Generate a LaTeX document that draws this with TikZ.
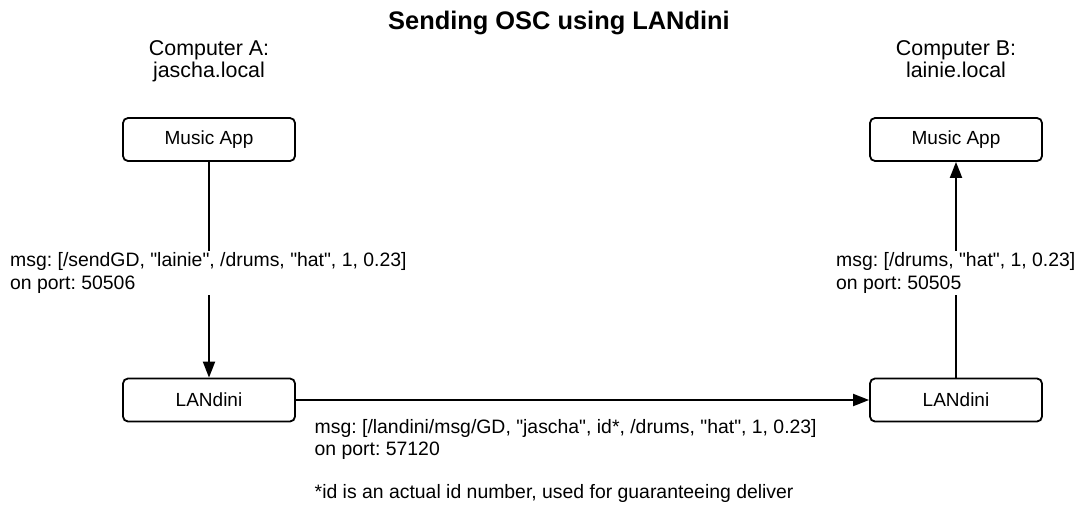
\documentclass[tikz,border=0pt]{standalone}
\usepackage{fontspec}
\newfontfamily\arial{Liberation Sans}
\usetikzlibrary{arrows.meta, positioning}
\frenchspacing

\tikzset{
  appbox/.style={draw, line width=1.8pt, rounded corners=5pt,
    minimum width=172pt, minimum height=43pt, inner sep=0pt,
    font=\arial\fontsize{19}{22}\selectfont},
  hosttext/.style={align=center, inner sep=0pt,
    font=\arial\fontsize{21.4}{22}\selectfont},
  msgtext/.style={fill=white, align=left, inner sep=2pt,
    font=\arial\fontsize{19.4}{22.6}\selectfont},
  flow/.style={line width=2pt, -{Triangle[length=16pt,width=12pt]}}
}

\begin{document}
\begin{tikzpicture}[x=1pt, y=-1pt]
  % page size of the reference
  \useasboundingbox (0,0) rectangle (1081,506);
  % title
  \node[anchor=base west, inner sep=0pt, font=\arial\fontsize{25.4}{28}\selectfont\bfseries]
    (title) at (388,29.5) {Sending OSC using LANdini};
  % computer A
  \node[hosttext, anchor=base] (hostA) at (209,77.5) {Computer A:\\jascha.local};
  \node[appbox] (appA) at (209,139.5) {Music App};
  \node[appbox] (lanA) at (209,400) {LANdini};
  % computer B
  \node[hosttext, anchor=base] (hostB) at (956,77.5) {Computer B:\\lainie.local};
  \node[appbox] (appB) at (956,139.5) {Music App};
  \node[appbox] (lanB) at (956,400) {LANdini};
  % connectors
  \draw[flow] (appA) -- (lanA);
  \draw[flow] (lanA) -- (lanB);
  \draw[flow] (lanB) -- (appB);
  % messages, over the lines
  \node[msgtext, anchor=west] (sendmsg) at (8,273)
    {msg: [/sendGD, "lainie", /drums, "hat", 1, 0.23]\\on port: 50506};
  \node[msgtext, anchor=west] (recvmsg) at (834,273)
    {msg: [/drums, "hat", 1, 0.23]\\on port: 50505};
  \node[msgtext, anchor=west] (lanmsg) at (312.5,439.5)
    {msg: [/landini/msg/GD, "jascha", id*, /drums, "hat", 1, 0.23]\\on port: 57120};
  \node[msgtext, anchor=west] (idnote) at (312.5,493)
    {*id is an actual id number, used for guaranteeing deliver};
\end{tikzpicture}
\end{document}
